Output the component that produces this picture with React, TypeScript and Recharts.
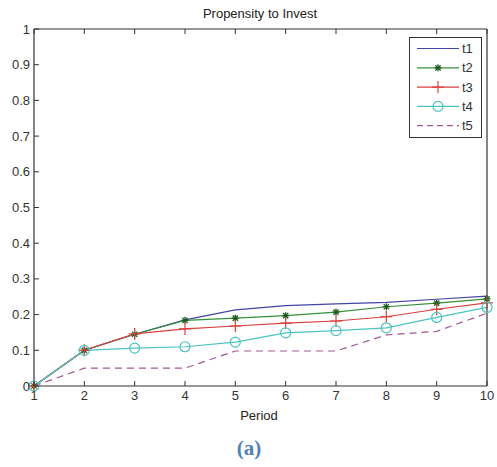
import React from 'react';
import { LineChart, Line, XAxis, YAxis } from 'recharts';

const periods = [1, 2, 3, 4, 5, 6, 7, 8, 9, 10];
const t1 = [0, 0.1, 0.145, 0.185, 0.213, 0.225, 0.23, 0.234, 0.243, 0.252];
const t2 = [0, 0.1, 0.145, 0.184, 0.19, 0.197, 0.207, 0.222, 0.232, 0.244];
const t3 = [0, 0.1, 0.146, 0.16, 0.168, 0.176, 0.182, 0.194, 0.215, 0.233];
const t4 = [0, 0.1, 0.106, 0.11, 0.123, 0.149, 0.155, 0.163, 0.192, 0.22];
const t5 = [0, 0.05, 0.05, 0.05, 0.098, 0.098, 0.098, 0.143, 0.153, 0.204];

const yTicks = [0, 0.1, 0.2, 0.3, 0.4, 0.5, 0.6, 0.7, 0.8, 0.9, 1];
const yTickLabels = ['0', '0.1', '0.2', '0.3', '0.4', '0.5', '0.6', '0.7', '0.8', '0.9', '1'];
const xTicks = periods;

const data = periods.map((p, i) => ({ p, t1: t1[i], t2: t2[i], t3: t3[i], t4: t4[i], t5: t5[i] }));

const C1 = '#4545a5';
const C2 = '#35903a';
const C2M = '#1d5a1d';
const C3 = '#d8403c';
const C4 = '#4cc3c3';
const C5 = '#a45596';
const AX = '#333';
const FONT = '"Liberation Sans", Arial, sans-serif';

const StarDot = (props: any) => {
  const { cx, cy } = props;
  if (cx == null || cy == null) return null;
  const r = 3.5;
  const d = r * 0.75;
  return (
    <g stroke={C2M} strokeWidth={1.3}>
      <line x1={cx - r} y1={cy} x2={cx + r} y2={cy} />
      <line x1={cx} y1={cy - r} x2={cx} y2={cy + r} />
      <line x1={cx - d} y1={cy - d} x2={cx + d} y2={cy + d} />
      <line x1={cx - d} y1={cy + d} x2={cx + d} y2={cy - d} />
    </g>
  );
};

const PlusDot = (props: any) => {
  const { cx, cy } = props;
  if (cx == null || cy == null) return null;
  const r = 6;
  return (
    <g stroke={C3} strokeWidth={1.2}>
      <line x1={cx - r} y1={cy} x2={cx + r} y2={cy} />
      <line x1={cx} y1={cy - r} x2={cx} y2={cy + r} />
    </g>
  );
};

const CircleDot = (props: any) => {
  const { cx, cy } = props;
  if (cx == null || cy == null) return null;
  return <circle cx={cx} cy={cy} r={5} fill="none" stroke={C4} strokeWidth={1.2} />;
};

const LeftTick = (props: any) => {
  const { x, y, payload } = props;
  const idx = yTicks.indexOf(payload.value);
  const label = idx >= 0 ? yTickLabels[idx] : String(payload.value);
  return (
    <g>
      <line x1={x + 4} y1={y} x2={x + 9} y2={y} stroke={AX} strokeWidth={1} />
      <text x={x} y={y} dy="0.35em" textAnchor="end" fontSize={13} fill={AX} fontFamily={FONT}>
        {label}
      </text>
    </g>
  );
};

const RightTick = (props: any) => {
  const { x, y } = props;
  return <line x1={x - 4} y1={y} x2={x - 9} y2={y} stroke={AX} strokeWidth={1} />;
};

const BottomTick = (props: any) => {
  const { x, y, payload } = props;
  return (
    <g>
      <line x1={x} y1={y - 4} x2={x} y2={y - 9} stroke={AX} strokeWidth={1} />
      <text x={x} y={y} dy="0.75em" textAnchor="middle" fontSize={13} fill={AX} fontFamily={FONT}>
        {payload.value}
      </text>
    </g>
  );
};

const TopTick = (props: any) => {
  const { x, y } = props;
  return <line x1={x} y1={y + 4} x2={x} y2={y + 9} stroke={AX} strokeWidth={1} />;
};

const legendItems = [
  { name: 't1', color: C1, marker: 'none', dash: '' },
  { name: 't2', color: C2, marker: 'star', dash: '' },
  { name: 't3', color: C3, marker: 'plus', dash: '' },
  { name: 't4', color: C4, marker: 'circle', dash: '' },
  { name: 't5', color: C5, marker: 'none', dash: '6 4' },
];

const LegendBox = () => (
  <div
    style={{
      position: 'absolute',
      left: 409,
      top: 37,
      width: 73,
      height: 101,
      border: `1px solid ${AX}`,
      background: '#fff',
      boxSizing: 'border-box',
    }}
  >
    <svg width={73} height={101} style={{ position: 'absolute', left: -1, top: -1 }}>
      {legendItems.map((it, i) => {
        const y = 11.5 + i * 19.3;
        const x1 = 8;
        const x2 = 50;
        const mx = (x1 + x2) / 2;
        return (
          <g key={it.name}>
            <line x1={x1} y1={y} x2={x2} y2={y} stroke={it.color} strokeWidth={1.2} strokeDasharray={it.dash || undefined} />
            {it.marker === 'star' && <StarDot cx={mx} cy={y} />}
            {it.marker === 'plus' && <PlusDot cx={mx} cy={y} />}
            {it.marker === 'circle' && <CircleDot cx={mx} cy={y} />}
            <text x={53} y={y} dy="0.35em" fontSize={13} fill={AX} fontFamily={FONT}>
              {it.name}
            </text>
          </g>
        );
      })}
    </svg>
  </div>
);

export default function App() {
  return (
    <div style={{ position: 'absolute', left: 0, top: 0, width: 497, height: 467, background: '#fff' }}>
      <LineChart
        width={497}
        height={467}
        data={data}
        margin={{ top: 0, right: 0, bottom: 51, left: 4 }}
      >
        <XAxis
          dataKey="p"
          type="number"
          domain={[1, 10]}
          ticks={xTicks}
          tickSize={4}
          tickMargin={0}
          tickLine={false}
          tick={<BottomTick />}
          height={30}
          axisLine={{ stroke: AX, strokeWidth: 1.2 }}
          interval={0}
        />
        <XAxis
          xAxisId="top"
          dataKey="p"
          type="number"
          orientation="top"
          domain={[1, 10]}
          ticks={xTicks}
          tickSize={4}
          tickMargin={0}
          tickLine={false}
          tick={<TopTick />}
          height={29}
          axisLine={{ stroke: AX, strokeWidth: 1.2 }}
          interval={0}
        />
        <YAxis
          type="number"
          domain={[0, 1]}
          ticks={yTicks}
          tickSize={4}
          tickMargin={0}
          tickLine={false}
          tick={<LeftTick />}
          width={30}
          axisLine={{ stroke: AX, strokeWidth: 1.2 }}
          interval={0}
        />
        <YAxis
          yAxisId="right"
          orientation="right"
          type="number"
          domain={[0, 1]}
          ticks={yTicks}
          tickSize={4}
          tickMargin={0}
          tickLine={false}
          tick={<RightTick />}
          width={10}
          axisLine={{ stroke: AX, strokeWidth: 1.2 }}
          interval={0}
        />
        <Line dataKey="t1" stroke={C1} strokeWidth={1.2} dot={false} type="linear" isAnimationActive={false} />
        <Line dataKey="t2" stroke={C2} strokeWidth={1.2} dot={<StarDot />} type="linear" isAnimationActive={false} />
        <Line dataKey="t3" stroke={C3} strokeWidth={1.2} dot={<PlusDot />} type="linear" isAnimationActive={false} />
        <Line dataKey="t4" stroke={C4} strokeWidth={1.2} dot={<CircleDot />} type="linear" isAnimationActive={false} />
        <Line dataKey="t5" stroke={C5} strokeWidth={1.2} strokeDasharray="7 5" dot={false} type="linear" isAnimationActive={false} />
      </LineChart>
      <LegendBox />
      <div
        style={{
          position: 'absolute',
          left: 160,
          width: 200,
          top: 6,
          textAlign: 'center',
          fontFamily: FONT,
          fontSize: 13,
          color: '#222',
          lineHeight: '16px',
        }}
      >
        Propensity to Invest
      </div>
      <div
        style={{
          position: 'absolute',
          left: 209,
          width: 100,
          top: 408,
          textAlign: 'center',
          fontFamily: FONT,
          fontSize: 13,
          color: '#222',
          lineHeight: '16px',
        }}
      >
        Period
      </div>
      <div
        style={{
          position: 'absolute',
          left: 199,
          width: 100,
          top: 436,
          textAlign: 'center',
          fontFamily: '"Liberation Serif", "Times New Roman", serif',
          fontWeight: 'bold',
          fontSize: 21,
          color: '#4f81bd',
          lineHeight: '24px',
        }}
      >
        (a)
      </div>
    </div>
  );
}
